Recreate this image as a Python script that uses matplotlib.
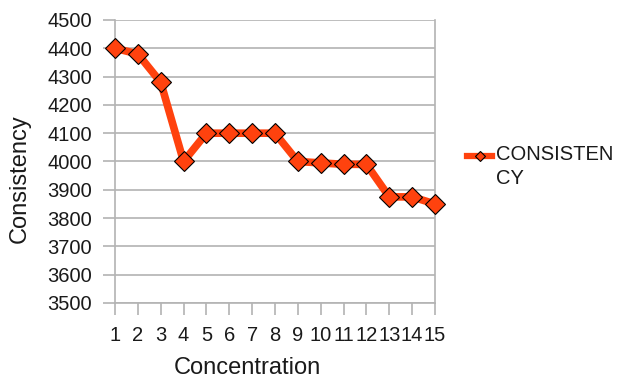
import matplotlib
matplotlib.use("Agg")
import matplotlib.pyplot as plt
from matplotlib.lines import Line2D

# Consistency measured at each concentration step
concentration = list(range(1, 16))
consistency = [4400, 4380, 4280, 4000, 4100, 4100, 4100, 4100,
               4000, 3995, 3990, 3990, 3875, 3875, 3850]
y_ticks = list(range(3500, 4501, 100))
series_name = "CONSISTEN\nCY"

line_color = "#FF420E"
grid_color = "#B3B3B3"
text_color = "#1a1a1a"

plt.rcParams["font.family"] = ["Liberation Sans", "DejaVu Sans"]

W, H = 618, 383
fig = plt.figure(figsize=(W / 100, H / 100), dpi=100)
ax = fig.add_axes([115 / W, 1 - 303 / H, 320 / W, 283 / H])

ax.plot(concentration, consistency, color=line_color, linewidth=5.5,
        marker="D", markersize=10, markerfacecolor=line_color,
        markeredgecolor="black", markeredgewidth=0.8,
        solid_joinstyle="round", clip_on=False, zorder=3)

ax.set_xlim(1, 15)
ax.set_ylim(3500, 4500)
ax.set_xticks(concentration)
ax.set_xticklabels([str(c) for c in concentration])
ax.set_yticks(y_ticks)
ax.set_yticklabels([str(v) for v in y_ticks])

ax.grid(axis="y", color=grid_color, linewidth=1.2)
ax.set_axisbelow(True)
for side in ["left", "bottom", "right"]:
    ax.spines[side].set_color(grid_color)
    ax.spines[side].set_linewidth(1.2)
ax.spines["top"].set_visible(False)

ax.tick_params(axis="both", direction="out", length=8.5, width=1.2,
               color=grid_color, labelsize=14.5, labelcolor=text_color)
ax.tick_params(axis="y", pad=8)
ax.tick_params(axis="x", pad=8)

ax.set_xlabel("Concentration", fontsize=17, color=text_color)
ax.set_ylabel("Consistency", fontsize=17, color=text_color)
ax.xaxis.set_label_coords((247 - 115) / 320, (303 - 357) / 283)
ax.yaxis.set_label_coords((31 - 115) / 320, (303 - 179) / 283)

# Series key to the right of the plot
key_y = 1 - 156 / H
fig.add_artist(Line2D([467 / W, 492 / W], [key_y, key_y],
                      transform=fig.transFigure,
                      color=line_color, linewidth=4.5))
fig.add_artist(Line2D([479.5 / W], [key_y], transform=fig.transFigure,
                      linestyle="none", marker="D", markersize=5.5,
                      markerfacecolor=line_color, markeredgecolor="black",
                      markeredgewidth=0.8))
fig.text(496 / W, 1 - 145 / H, series_name, fontsize=14.5, color=text_color,
         ha="left", va="top", linespacing=1.3)

fig.savefig("out.png", dpi=100)
